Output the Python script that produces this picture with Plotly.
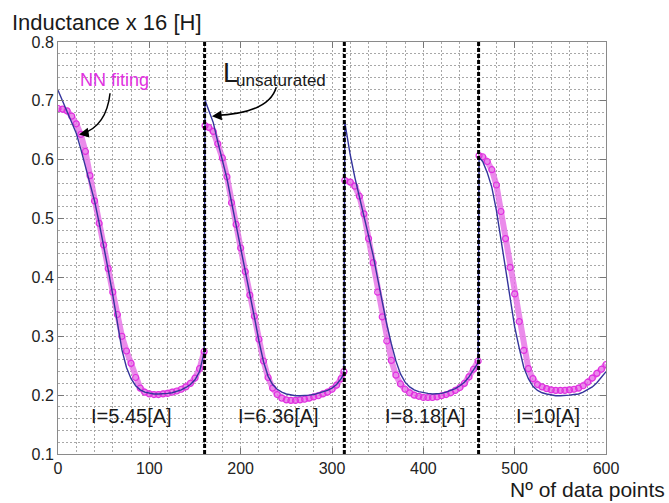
import plotly.graph_objects as go

# Sample index of each point, one block per excitation current
seg1_x = list(range(0, 161, 5))
seg2_x = [161] + list(range(165, 311, 5)) + [313]
seg3_x = [314] + list(range(320, 461, 5))
seg4_x = [461] + list(range(465, 601, 5))

# Inductance x 16 [H] computed from measurements (blue line)
seg1_meas = [0.718, 0.700, 0.684, 0.665, 0.645, 0.618, 0.590, 0.560, 0.530, 0.493, 0.455,
             0.413, 0.370, 0.322, 0.277, 0.247, 0.228, 0.216, 0.209, 0.205, 0.203, 0.202,
             0.202, 0.202, 0.203, 0.204, 0.206, 0.209, 0.213, 0.218, 0.226, 0.240, 0.272]
seg2_meas = [0.701, 0.684, 0.663, 0.630, 0.600, 0.568, 0.528, 0.490, 0.450, 0.413, 0.372,
             0.333, 0.292, 0.257, 0.232, 0.218, 0.210, 0.205, 0.202, 0.200, 0.199, 0.199,
             0.199, 0.200, 0.201, 0.203, 0.205, 0.208, 0.212, 0.218, 0.228, 0.236]
seg3_meas = [0.664, 0.608, 0.570, 0.538, 0.505, 0.472, 0.438, 0.398, 0.357, 0.320, 0.287,
             0.258, 0.236, 0.222, 0.214, 0.209, 0.206, 0.204, 0.203, 0.202, 0.202, 0.203,
             0.205, 0.208, 0.211, 0.216, 0.222, 0.231, 0.242, 0.255]
seg4_meas = [0.604, 0.597, 0.578, 0.553, 0.514, 0.465, 0.415, 0.360, 0.316, 0.280, 0.247,
             0.228, 0.215, 0.208, 0.204, 0.202, 0.200, 0.199, 0.199, 0.199, 0.200, 0.201,
             0.202, 0.205, 0.209, 0.214, 0.221, 0.230, 0.240]

# Neural-network fit (magenta circles)
seg1_nn = [0.687, 0.686, 0.683, 0.674, 0.661, 0.643, 0.614, 0.573, 0.530, 0.492, 0.455,
           0.415, 0.375, 0.337, 0.300, 0.275, 0.254, 0.230, 0.212, 0.205, 0.202, 0.201,
           0.201, 0.202, 0.203, 0.205, 0.207, 0.210, 0.214, 0.220, 0.229, 0.245, 0.274]
seg2_nn = [0.658, 0.655, 0.648, 0.627, 0.603, 0.571, 0.527, 0.490, 0.450, 0.410, 0.370,
           0.334, 0.295, 0.258, 0.230, 0.212, 0.201, 0.195, 0.192, 0.191, 0.191, 0.192,
           0.193, 0.195, 0.197, 0.199, 0.202, 0.205, 0.210, 0.217, 0.228, 0.240]
seg3_nn = [0.565, 0.562, 0.555, 0.538, 0.508, 0.466, 0.425, 0.375, 0.333, 0.292, 0.259,
           0.234, 0.219, 0.210, 0.204, 0.200, 0.198, 0.196, 0.196, 0.196, 0.197, 0.199,
           0.201, 0.204, 0.208, 0.213, 0.220, 0.231, 0.244, 0.258]
seg4_nn = [0.607, 0.605, 0.597, 0.583, 0.557, 0.512, 0.466, 0.417, 0.372, 0.325, 0.276,
           0.245, 0.228, 0.218, 0.214, 0.211, 0.209, 0.208, 0.208, 0.208, 0.209, 0.210,
           0.212, 0.216, 0.222, 0.229, 0.237, 0.244, 0.252]

# Block boundaries and current labels
boundaries = [160.5, 313.5, 460.5]
current_labels = ["I=5.45[A]", "I=6.36[A]", "I=8.18[A]", "I=10[A]"]
label_x = [80, 241, 402, 536]
label_y = 0.165

FONT = "Liberation Sans, Arial, Helvetica, sans-serif"
BLUE = "#34349c"
MAGENTA = "#e030e0"

segs_x = [seg1_x, seg2_x, seg3_x, seg4_x]
segs_meas = [seg1_meas, seg2_meas, seg3_meas, seg4_meas]
segs_nn = [seg1_nn, seg2_nn, seg3_nn, seg4_nn]

meas_x, meas_y, nn_x, nn_y = [], [], [], []
for sx, sm, sn in zip(segs_x, segs_meas, segs_nn):
    meas_x += sx
    meas_y += sm
    nn_x += sx + [None]
    nn_y += sn + [None]

fig = go.Figure()

# NN fit: a soft band with open circles on top
fig.add_trace(go.Scatter(x=nn_x, y=nn_y, mode="lines", connectgaps=False,
                         line=dict(color="rgba(230,110,230,0.8)", width=6),
                         hoverinfo="skip", showlegend=False))
fig.add_trace(go.Scatter(x=nn_x, y=nn_y, mode="markers",
                         marker=dict(symbol="circle-open", size=6, color=MAGENTA,
                                     line=dict(width=1.2)),
                         name="NN fiting", showlegend=False))
fig.add_trace(go.Scatter(x=meas_x, y=meas_y, mode="lines",
                         line=dict(color=BLUE, width=1.4),
                         name="Inductance", showlegend=False))

# Dashed separators between current blocks
for b in boundaries:
    fig.add_shape(type="line", xref="x", yref="y", x0=b, x1=b, y0=0.1, y1=0.8,
                  line=dict(color="black", width=3, dash="4px,2px"), layer="above")

# Current labels
for txt, lx in zip(current_labels, label_x):
    fig.add_annotation(x=lx, y=label_y, text=txt, showarrow=False,
                       font=dict(family=FONT, size=20, color="#1a1a1a"),
                       xanchor="center", yanchor="middle")

# "NN fiting" label with curved arrow
fig.add_annotation(x=22, y=0.735, text="NN fiting", showarrow=False,
                   font=dict(family=FONT, size=18, color=MAGENTA),
                   xanchor="left", yanchor="middle")
fig.add_shape(type="path", xref="x", yref="y",
              path="M 57,0.713 Q 53,0.657 26,0.644",
              line=dict(color="black", width=1.5))
fig.add_annotation(x=23, y=0.643, ax=30, ay=0.645, xref="x", yref="y",
                   axref="x", ayref="y", text="", showarrow=True,
                   arrowhead=2, arrowsize=1.3, arrowwidth=1.5, arrowcolor="black")

# "L unsaturated" label with curved arrow
fig.add_annotation(x=179, y=0.748, text="L", showarrow=False,
                   font=dict(family=FONT, size=27, color="#1a1a1a"),
                   xanchor="left", yanchor="middle")
fig.add_annotation(x=193, y=0.735, text="unsaturated", showarrow=False,
                   font=dict(family=FONT, size=17, color="#1a1a1a"),
                   xanchor="left", yanchor="middle")
fig.add_shape(type="path", xref="x", yref="y",
              path="M 239,0.723 Q 231,0.679 172,0.675",
              line=dict(color="black", width=1.5))
fig.add_annotation(x=168.5, y=0.674, ax=176, ay=0.675, xref="x", yref="y",
                   axref="x", ayref="y", text="", showarrow=True,
                   arrowhead=2, arrowsize=1.3, arrowwidth=1.5, arrowcolor="black")

# Axis titles placed like the original figure
fig.add_annotation(xref="paper", yref="paper", x=-0.088, y=1.083,
                   text="Inductance x 16 [H]", showarrow=False,
                   font=dict(family=FONT, size=22, color="#1a1a1a"),
                   xanchor="left", yanchor="top")
fig.add_annotation(xref="paper", yref="paper", x=1.111, y=-0.087,
                   text="Nº of data points", showarrow=False,
                   font=dict(family=FONT, size=21, color="#1a1a1a"),
                   xanchor="right", yanchor="middle")

GRID = "#a8a8a8"
grid = dict(showgrid=True, gridcolor=GRID, gridwidth=1, griddash="2px,2px")
fig.update_xaxes(range=[0, 600], dtick=100, tick0=0, **grid,
                 minor=dict(dtick=20, showgrid=True, gridcolor=GRID,
                            griddash="2px,2px", gridwidth=1),
                 showline=True, linecolor="#8a8a8a", linewidth=1, mirror="ticks",
                 ticks="inside", ticklen=6, tickcolor="#777", zeroline=False,
                 tickfont=dict(family=FONT, size=16, color="#222"))
fig.update_yaxes(range=[0.1, 0.8], dtick=0.1, tick0=0.1, tickformat=".1f", **grid,
                 minor=dict(dtick=0.02, showgrid=True, gridcolor=GRID,
                            griddash="2px,2px", gridwidth=1),
                 showline=True, linecolor="#8a8a8a", linewidth=1, mirror="ticks",
                 ticks="inside", ticklen=6, tickcolor="#777", zeroline=False,
                 tickfont=dict(family=FONT, size=16, color="#222"))

fig.update_layout(width=669, height=503, margin=dict(l=58, r=63, t=42, b=49),
                  paper_bgcolor="white", plot_bgcolor="white", showlegend=False)

fig.write_html("out.html")
